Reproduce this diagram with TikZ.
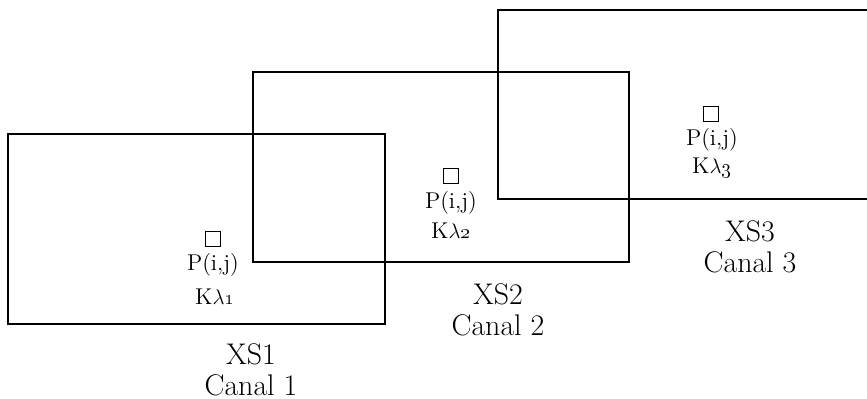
\documentclass[tikz,border=0pt]{standalone}
\usepackage{amsmath,amssymb}
\usepackage{tikz}
\tikzset{
  canal/.style={line width=1.6pt},
  pix/.style={draw,line width=0.8pt,minimum size=2.9mm,inner sep=0pt},
  lbl/.style={font=\fontsize{13}{15}\selectfont,inner sep=0pt},
  canalcap/.style={font=\fontsize{17}{17.6}\selectfont,align=center,inner sep=0pt}
}

\begin{document}
\begin{tikzpicture}[x=0.2mm,y=-0.2mm]
  \useasboundingbox (0,0) rectangle (867,399);
  \clip (0,0) rectangle (867,399);
  % Canal 1
  \draw[canal] (8,134) rectangle (385,324);
  \node[pix] (pix1) at (213,239) {};
  \node[lbl] (pij1) at (213,265) {P(i,j)};
  \node[lbl] (k1) at (215,297) {K$\lambda$\oldstylenums{1}};
  \node[canalcap] (xs1) at (251,370) {XS1\\Canal 1};
  % Canal 2
  \draw[canal] (253,72) rectangle (629,262);
  \node[pix] (pix2) at (451,176) {};
  \node[lbl] (pij2) at (451,203) {P(i,j)};
  \node[lbl] (k2) at (451,231) {K$\lambda$\oldstylenums{2}};
  \node[canalcap] (xs2) at (498,310) {XS2\\Canal 2};
  % Canal 3
  \draw[canal] (498,10) rectangle (900,199);
  \node[pix] (pix3) at (711,114) {};
  \node[lbl] (pij3) at (712,140) {P(i,j)};
  \node[lbl] (k3) at (712,168) {K$\lambda$\oldstylenums{3}};
  \node[canalcap] (xs3) at (750,247) {XS3\\Canal 3};
\end{tikzpicture}
\end{document}
